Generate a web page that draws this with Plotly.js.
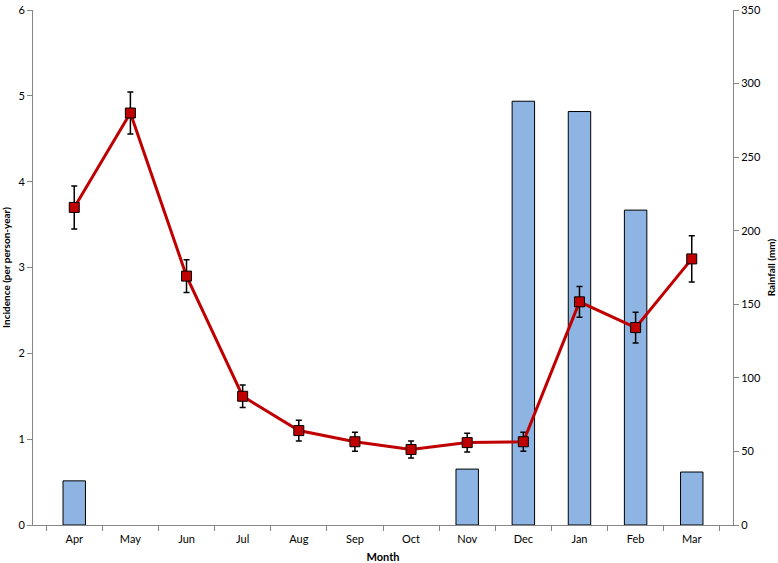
<!DOCTYPE html>
<html>
<head>
<meta charset="utf-8">
<script src="https://cdn.plot.ly/plotly-3.0.1.min.js"></script>
<style>
  body { margin: 0; background: #fff; }
  #chart { width: 778px; height: 563px; }
</style>
</head>
<body>
<div id="chart"></div>
<script>
// months of the study year
const months = ['Apr', 'May', 'Jun', 'Jul', 'Aug', 'Sep', 'Oct', 'Nov', 'Dec', 'Jan', 'Feb', 'Mar'];

// monthly rainfall (mm), right axis; null = no rain recorded
const rainfall = [30, null, null, null, null, null, null, 38, 288, 281, 214, 36];

// incidence (per person-year), left axis
const incidence = [3.7, 4.8, 2.9, 1.5, 1.1, 0.97, 0.88, 0.96, 0.97, 2.6, 2.3, 3.1];
const incidenceErr = [0.25, 0.245, 0.19, 0.13, 0.12, 0.11, 0.1, 0.11, 0.11, 0.18, 0.18, 0.27];

// axis ticks
const rainTicks = [0, 50, 100, 150, 200, 250, 300, 350];
const incTicks = [0, 1, 2, 3, 4, 5, 6];

const bars = {
    x: months,
    y: rainfall,
    type: 'bar',
    name: 'Rainfall',
    width: 0.4,
    marker: {
        color: '#8db4e2',
        line: { color: '#000', width: 1 },
    },
    yaxis: 'y',
};

const line = {
    x: months,
    y: incidence,
    type: 'scatter',
    mode: 'lines+markers',
    name: 'Incidence',
    line: { color: '#c00000', width: 3 },
    marker: {
        symbol: 'square',
        size: 10,
        color: '#c00000',
        line: { color: '#000', width: 1 },
    },
    error_y: {
        type: 'data',
        array: incidenceErr,
        visible: true,
        color: '#000',
        thickness: 1.5,
        width: 3,
    },
    yaxis: 'y2',
};

const tickFont = { family: 'Lato, "Open Sans", sans-serif', size: 11, color: '#000' };
const titleFont = { family: 'Lato, "Open Sans", sans-serif', size: 10, color: '#000', weight: 'bold' };

const layout = {
    width: 778,
    height: 563,
    margin: { l: 33, r: 45, t: 10, b: 38 },
    paper_bgcolor: '#fff',
    plot_bgcolor: '#fff',
    showlegend: false,
    xaxis: {
        type: 'category',
        showline: true,
        linecolor: '#868686',
        linewidth: 1,
        ticks: 'outside',
        tickson: 'boundaries',
        ticklen: 5,
        tickcolor: '#868686',
        tickfont: tickFont,
        ticklabelstandoff: 4,
        showgrid: false,
        zeroline: false,
        title: { text: 'Month', font: { ...titleFont, size: 11 }, standoff: 10 },
    },
    // rainfall on the right, drawn first so the bars sit behind the line
    yaxis: {
        side: 'right',
        range: [0, 350],
        tickmode: 'array',
        tickvals: rainTicks,
        showline: true,
        linecolor: '#868686',
        ticks: 'outside',
        ticklen: 5,
        tickcolor: '#868686',
        tickfont: tickFont,
        showgrid: false,
        zeroline: false,
        title: { text: 'Rainfall (mm)', font: titleFont, standoff: 8 },
    },
    yaxis2: {
        overlaying: 'y',
        side: 'left',
        range: [0, 6],
        tickmode: 'array',
        tickvals: incTicks,
        showline: true,
        linecolor: '#868686',
        ticks: 'outside',
        ticklen: 5,
        tickcolor: '#868686',
        tickfont: tickFont,
        showgrid: false,
        zeroline: false,
        title: { text: 'Incidence (per person-year)', font: titleFont, standoff: 6 },
    },
};

Plotly.newPlot('chart', [bars, line], layout, { displayModeBar: false, staticPlot: true });
</script>
</body>
</html>
